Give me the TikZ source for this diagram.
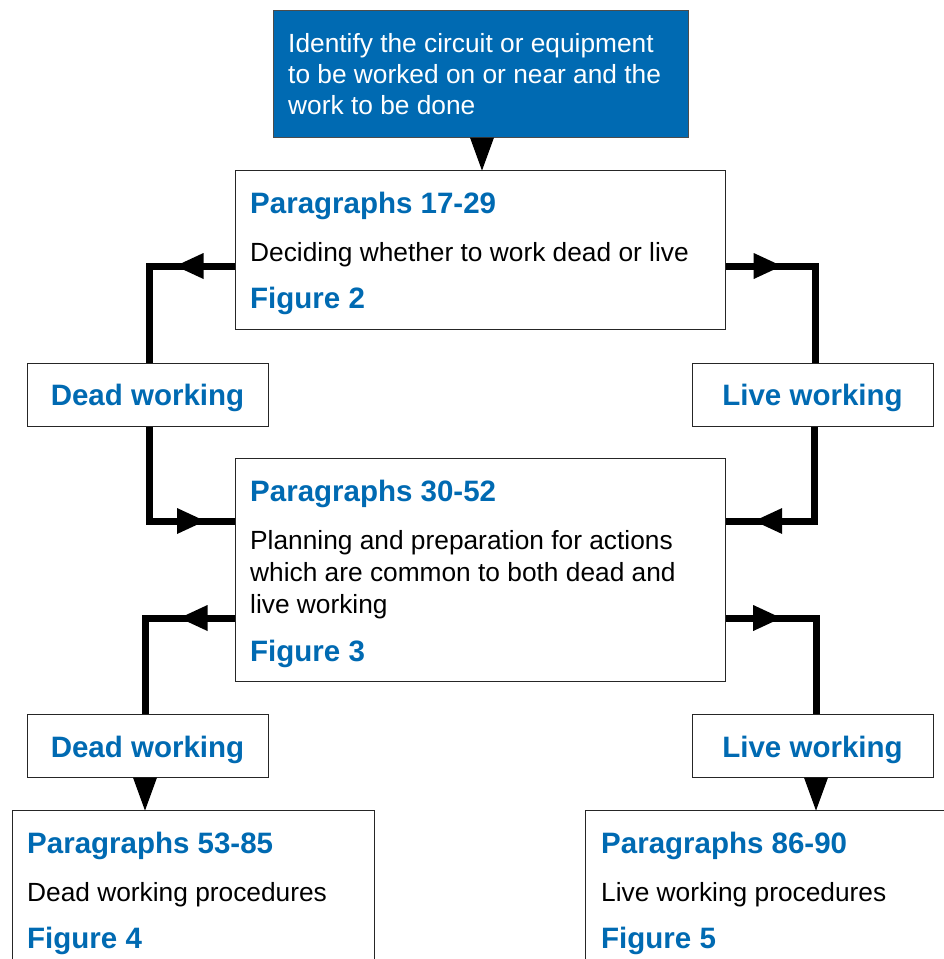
\documentclass[tikz,border=0pt]{standalone}
\usepackage{fontspec}
\setmainfont{Liberation Sans}
\usetikzlibrary{decorations.markings}
\definecolor{hseblue}{RGB}{0,106,178}
\begin{document}
\begin{tikzpicture}[x=1pt,y=-1pt,
  box/.style={draw=black!85,line width=1.2pt,fill=white,inner sep=0pt,anchor=north west},
  head/.style={anchor=base west,inner sep=0pt,text=hseblue,font=\fontsize{29.5}{29.5}\selectfont\bfseries},
  body/.style={anchor=base west,inner sep=0pt,font=\fontsize{26.3}{26.3}\selectfont},
  lab/.style={anchor=base,inner sep=0pt,text=hseblue,font=\fontsize{29.5}{29.5}\selectfont\bfseries},
  conn/.style={line width=7pt},
  arrowmid/.style args={#1:#2:#3}{postaction={decorate,decoration={markings,
      mark=at position #1 with {\fill (-#2/2,-#3/2) -- (#2/2,0pt) -- (-#2/2,#3/2) -- cycle;}}}}
]
\useasboundingbox (0,0) rectangle (944,959);
\clip (0,0) rectangle (944,959);

% boxes
\node[box,fill=hseblue,draw=black!70,minimum width=415pt,minimum height=127pt] (blue) at (273,10) {};
\node[box,minimum width=490pt,minimum height=159pt] (b1) at (235,170) {};
\node[box,minimum width=241pt,minimum height=63pt] (dead1) at (27,363) {};
\node[box,minimum width=241pt,minimum height=63pt] (live1) at (692,363) {};
\node[box,minimum width=490pt,minimum height=223pt] (b2) at (235,458) {};
\node[box,minimum width=241pt,minimum height=63pt] (dead2) at (27,714) {};
\node[box,minimum width=241pt,minimum height=63pt] (live2) at (692,714) {};
\node[box,minimum width=362pt,minimum height=170pt] (b3) at (12,810) {};
\node[box,minimum width=380pt,minimum height=170pt] (b4) at (585,810) {};

% texts
\node[body,text=white] (tl1) at (288,52) {Identify the circuit or equipment};
\node[body,text=white] (tl2) at (288,83) {to be worked on or near and the};
\node[body,text=white] (tl3) at (288,114) {work to be done};

\node[head] (h1) at (250,213) {Paragraphs 17-29};
\node[body] (t1) at (250,261) {Deciding whether to work dead or live};
\node[head] (f1) at (250,308) {Figure 2};

\node[lab] (ld1) at (147.5,405) {Dead working};
\node[lab] (ll1) at (812.5,405) {Live working};

\node[head] (h2) at (250,501) {Paragraphs 30-52};
\node[body] (t2a) at (250,549) {Planning and preparation for actions};
\node[body] (t2b) at (250,581) {which are common to both dead and};
\node[body] (t2c) at (250,613) {live working};
\node[head] (f2) at (250,661) {Figure 3};

\node[lab] (ld2) at (147.5,757) {Dead working};
\node[lab] (ll2) at (812.5,757) {Live working};

\node[head] (h3) at (27,853) {Paragraphs 53-85};
\node[body] (t3) at (27,901) {Dead working procedures};
\node[head] (f3) at (27,948) {Figure 4};

\node[head] (h4) at (601,853) {Paragraphs 86-90};
\node[body] (t4) at (601,901) {Live working procedures};
\node[head] (f4) at (601,948) {Figure 5};

% corner coordinates
\coordinate (c0) at (482,150);
\coordinate (c1) at (149,266);
\coordinate (c2) at (815,266);
\coordinate (c3) at (149,521);
\coordinate (c4) at (814,521);
\coordinate (c5) at (145,618);
\coordinate (c6) at (816,618);

% connectors
\path[arrowmid=0.5:33pt:24pt] (blue.south -| c0) -- (b1.north -| c0);
\draw[conn,arrowmid=45.5pt:28pt:26pt] (b1.west |- c1) -- (c1) -- (dead1.north -| c1);
\draw[conn,arrowmid=41.5pt:28pt:26pt] (b1.east |- c2) -- (c2) -- (live1.north -| c2);
\draw[conn,arrowmid=-44pt:28pt:26pt] (dead1.south -| c3) -- (c3) -- (b2.west |- c3);
\draw[conn,arrowmid=-42pt:28pt:26pt] (live1.south -| c4) -- (c4) -- (b2.east |- c4);
\draw[conn,arrowmid=41.5pt:28pt:26pt] (b2.west |- c5) -- (c5) -- (dead2.north -| c5);
\draw[conn,arrowmid=41pt:28pt:26pt] (b2.east |- c6) -- (c6) -- (live2.north -| c6);
\path[arrowmid=0.5:33pt:24pt] (dead2.south -| c5) -- (b3.north -| c5);
\path[arrowmid=0.5:33pt:24pt] (live2.south -| c6) -- (b4.north -| c6);
\end{tikzpicture}
\end{document}
